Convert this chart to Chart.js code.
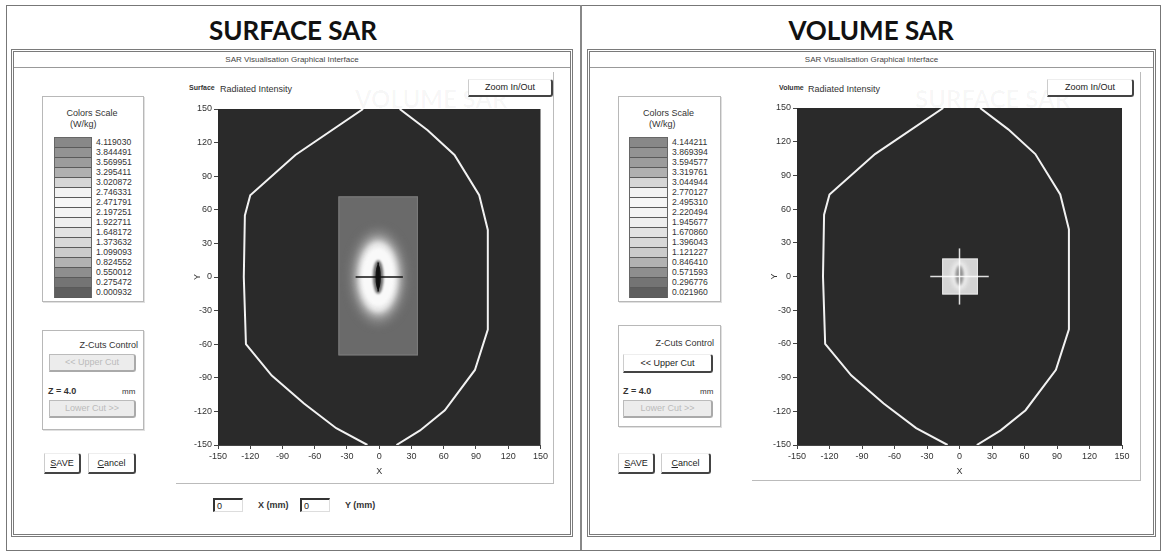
<!DOCTYPE html>
<html><head><meta charset="utf-8">
<script src="https://cdn.jsdelivr.net/npm/chart.js@4.4.0/dist/chart.umd.min.js"></script>
<style>
body{margin:0;width:1163px;height:557px;background:#fff;position:relative;overflow:hidden;font-family:"Liberation Sans",Arial,sans-serif;color:#222}
.a{position:absolute}
.title{position:absolute;font-family:Lato,"Open Sans",sans-serif;font-weight:700;font-size:26px;color:#111;text-align:center;top:14px}
.win{position:absolute;border:3px double #7a7a7a;background:#fff}
.wt{position:absolute;font-size:8px;color:#444;text-align:center}
.box{position:absolute;border:1px solid #b8b8b8;box-shadow:1px 1px 0 #e0e0e0}
.sm{position:absolute;font-size:9px;color:#333;white-space:nowrap}
.btn{position:absolute;background:#fff;border-top:1px solid #eee;border-left:1px solid #ccc;border-right:2px solid #444;border-bottom:2px solid #444;border-radius:0 3px 3px 0;font-size:9px;color:#222;text-align:center;box-sizing:border-box}
.dis{background:#ececec;color:#bbb;border:1px solid #bbb;border-right:2px solid #aaa;border-bottom:2px solid #aaa}
.bar div{height:9px;border-bottom:1px solid #5a5a5a}
.lab div{height:10px;line-height:10px;font-size:8.6px;color:#333}
.inp{position:absolute;border-top:2px solid #333;border-left:2px solid #333;border-right:1px solid #ddd;border-bottom:1px solid #ddd;font-size:9px;padding-left:2px;box-sizing:border-box}
.ghost{position:absolute;font-family:Lato,sans-serif;font-weight:700;font-size:24px;color:rgba(0,0,0,0.035)}
</style></head>
<body>
<div class="a" style="left:6px;top:5px;width:1153px;height:544px;border:1px solid #777"></div>
<div class="a" style="left:580px;top:5px;width:2px;height:545px;background:#888"></div>
<div class="title" style="left:6px;width:574px">SURFACE SAR</div>
<div class="title" style="left:582px;width:578px">VOLUME SAR</div>

<div class="win" style="left:11px;top:49px;width:556px;height:482px"></div>
<div class="win" style="left:587px;top:49px;width:563px;height:482px"></div>
<div class="wt" style="left:14px;top:55px;width:556px">SAR Visualisation Graphical Interface</div>
<div class="wt" style="left:590px;top:55px;width:563px">SAR Visualisation Graphical Interface</div>
<div class="a" style="left:14px;top:67px;width:556px;height:1px;background:#999"></div>
<div class="a" style="left:590px;top:67px;width:563px;height:1px;background:#999"></div>

<div class="ghost" style="left:355px;top:84px">VOLUME SAR</div>
<div class="ghost" style="left:915px;top:84px">SURFACE SAR</div>

<!-- plot frames -->
<div class="a" style="left:176px;top:72px;width:377px;height:411px;border-right:1px solid #bbb;border-bottom:1px solid #bbb"></div>
<div class="a" style="left:752px;top:72px;width:388px;height:408px;border-right:1px solid #bbb;border-bottom:1px solid #bbb"></div>

<!-- left controls -->
<div class="box" style="left:42px;top:96px;width:100px;height:204px"></div>
<div class="sm" style="left:42px;top:108px;width:100px;text-align:center">Colors Scale</div>
<div class="sm" style="left:70px;top:119px">(W/kg)</div>
<div class="a bar" id="barL" style="left:54px;top:137px;width:36px;border:1px solid #666;border-bottom:none"></div>
<div class="a lab" id="labL" style="left:96px;top:137px"></div>

<div class="box" style="left:42px;top:330px;width:100px;height:98px"></div>
<div class="sm" style="left:42px;top:340px;width:96px;text-align:right">Z-Cuts Control</div>
<div class="btn dis" style="left:49px;top:354px;width:87px;height:18px;line-height:15px">&lt;&lt; Upper Cut</div>
<div class="sm" style="left:48px;top:386px;font-weight:bold">Z = 4.0</div>
<div class="sm" style="left:122px;top:387px;font-size:8px">mm</div>
<div class="btn dis" style="left:49px;top:400px;width:87px;height:18px;line-height:15px">Lower Cut &gt;&gt;</div>
<div class="btn" style="left:44px;top:453px;width:37px;height:21px;line-height:18px"><u>S</u>AVE</div>
<div class="btn" style="left:88px;top:453px;width:48px;height:21px;line-height:18px"><u>C</u>ancel</div>

<div class="sm" style="left:189px;top:84px;font-size:7px;font-weight:bold">Surface</div>
<div class="sm" style="left:220px;top:84px">Radiated Intensity</div>
<div class="btn" style="left:468px;top:79px;width:85px;height:18px;line-height:15px">Zoom In/Out</div>

<div class="inp" style="left:213px;top:498px;width:30px;height:14px;line-height:12px">0</div>
<div class="sm" style="left:258px;top:500px;font-weight:bold">X (mm)</div>
<div class="inp" style="left:300px;top:498px;width:30px;height:14px;line-height:12px">0</div>
<div class="sm" style="left:345px;top:500px;font-weight:bold">Y (mm)</div>

<!-- right controls -->
<div class="box" style="left:618px;top:96px;width:101px;height:204px"></div>
<div class="sm" style="left:618px;top:108px;width:101px;text-align:center">Colors Scale</div>
<div class="sm" style="left:649px;top:119px">(W/kg)</div>
<div class="a bar" id="barR" style="left:629px;top:137px;width:37px;border:1px solid #666;border-bottom:none"></div>
<div class="a lab" id="labR" style="left:672px;top:137px"></div>

<div class="box" style="left:618px;top:325px;width:101px;height:100px"></div>
<div class="sm" style="left:618px;top:338px;width:96px;text-align:right">Z-Cuts Control</div>
<div class="btn" style="left:623px;top:354px;width:90px;height:19px;line-height:16px">&lt;&lt; Upper Cut</div>
<div class="sm" style="left:623px;top:386px;font-weight:bold">Z = 4.0</div>
<div class="sm" style="left:700px;top:387px;font-size:8px">mm</div>
<div class="btn dis" style="left:623px;top:400px;width:90px;height:18px;line-height:15px">Lower Cut &gt;&gt;</div>
<div class="btn" style="left:618px;top:453px;width:37px;height:21px;line-height:18px"><u>S</u>AVE</div>
<div class="btn" style="left:661px;top:453px;width:50px;height:21px;line-height:18px"><u>C</u>ancel</div>

<div class="sm" style="left:779px;top:84px;font-size:7px;font-weight:bold">Volume</div>
<div class="sm" style="left:808px;top:84px">Radiated Intensity</div>
<div class="btn" style="left:1047px;top:79px;width:87px;height:18px;line-height:15px">Zoom In/Out</div>

<canvas id="cL" class="a" style="left:180px;top:100px"></canvas>
<canvas id="cR" class="a" style="left:757px;top:99px"></canvas>

<script>
// ---------------- DATA ----------------
const axisTicks = [-150,-120,-90,-60,-30,0,30,60,90,120,150];
// phantom outline (mm), left and right halves
const phantomLeftX  = [-15,-78,-120,-125,-126,-124,-100,-70,-40,-11];
const phantomLeftY  = [150,109,73,55,0,-60,-88,-113,-135,-150];
const phantomRightX = [19,45,70,93,101,101,89,61,38,16];
const phantomRightY = [150,131,109,73,42,-47,-83,-119,-137,-150];
// color scale labels (W/kg)
const surfaceScale = ["4.119030","3.844491","3.569951","3.295411","3.020872","2.746331","2.471791","2.197251","1.922711","1.648172","1.373632","1.099093","0.824552","0.550012","0.275472","0.000932"];
const volumeScale  = ["4.144211","3.869394","3.594577","3.319761","3.044944","2.770127","2.495310","2.220494","1.945677","1.670860","1.396043","1.121227","0.846410","0.571593","0.296776","0.021960"];
// surface SAR field: measured area and iso-level ellipses
const surfaceAreaX = [-38, 36];
const surfaceAreaY = [-70, 72];
const surfaceAreaSAR = 0.28;
const surfaceSpotCenter = [-1, 0];
const surfaceSpotSAR = [0.82, 1.37, 1.92, 2.47, 3.30, 4.12];
const surfaceSpotRx  = [26, 21, 18, 15, 5, 2.5];
const surfaceSpotRy  = [42, 35, 31, 26, 15, 11];
const surfaceCrossX = [-22, 22];
const surfaceCrossY = [-13, 13];
// volume SAR field
const volumeAreaX = [-16, 17];
const volumeAreaY = [-16, 16];
const volumeAreaSAR = 1.40;
const volumeSpotCenter = [0, 1];
const volumeSpotSAR = [1.95, 0.85, 0.57];
const volumeSpotRx  = [8, 4, 2];
const volumeSpotRy  = [13, 9, 6];
const volumeCrossX = [-27, 27];
const volumeCrossY = [-25, 25];

// ---------------- STYLE ----------------
const bandGrays = ['#888','#939393','#9c9c9c','#b0b0b0','#d6d6d6','#f3f3f3','#f6f6f6','#f3f3f3','#eeeeee','#e2e2e2','#d8d8d8','#cbcbcb','#b2b2b2','#8e8e8e','#747474','#5e5e5e'];
const surfaceSpotColors = ['#8a8a8a','#c4c4c4','#ececec','#f9f9f9','#6e6e6e','#151515'];
const surfaceSpotBlur = [4,3,2,1.5,1,0.5];
const volumeSpotColors = ['#ececec','#a4a4a4','#8a8a8a'];
const volumeSpotBlur = [2,1,1];

function fillScale(barId, labId, labels){
  const bar=document.getElementById(barId), lab=document.getElementById(labId);
  labels.forEach((t,i)=>{
    const d=document.createElement('div'); d.style.background=bandGrays[i]; bar.appendChild(d);
    const l=document.createElement('div'); l.textContent=t; lab.appendChild(l);
  });
}
fillScale('barL','labL',surfaceScale);
fillScale('barR','labR',volumeScale);

function heatPlugin(h){
  return {id:'heat', beforeDatasetsDraw(chart){
    const {ctx, chartArea:a, scales:{x,y}} = chart;
    ctx.save();
    ctx.fillStyle='#2a2a2a'; ctx.fillRect(a.left,a.top,a.width,a.height);
    const x0=x.getPixelForValue(h.areaX[0]), x1=x.getPixelForValue(h.areaX[1]);
    const y0=y.getPixelForValue(h.areaY[1]), y1=y.getPixelForValue(h.areaY[0]);
    ctx.fillStyle=h.areaColor; ctx.fillRect(x0,y0,x1-x0,y1-y0);
    ctx.strokeStyle=h.edge; ctx.lineWidth=1; ctx.strokeRect(x0+0.5,y0+0.5,x1-x0-1,y1-y0-1);
    ctx.beginPath(); ctx.rect(x0,y0,x1-x0,y1-y0); ctx.clip();
    const cx=x.getPixelForValue(h.center[0]), cy=y.getPixelForValue(h.center[1]);
    h.sar.forEach((v,i)=>{
      const rx=Math.abs(x.getPixelForValue(h.center[0]+h.rx[i])-cx);
      const ry=Math.abs(y.getPixelForValue(h.center[1]+h.ry[i])-cy);
      ctx.filter='blur('+h.blur[i]+'px)';
      ctx.fillStyle=h.colors[i];
      ctx.beginPath(); ctx.ellipse(cx,cy,rx,ry,0,0,Math.PI*2); ctx.fill();
    });
    ctx.filter='none';
    ctx.restore();
  }};
}

function seg(xs, ys){ return xs.map((v,i)=>({x:v,y:ys[i]})); }

function makeChart(id, w, h, pad, yW, heat, crossColor, cross, center){
  const el=document.getElementById(id); el.width=w; el.height=h; el.style.width=w+'px'; el.style.height=h+'px';
  const lineDs=(data,color,width)=>({data, showLine:true, borderColor:color, borderWidth:width, pointRadius:0, tension:0, fill:false});
  return new Chart(el,{
    type:'scatter',
    data:{datasets:[
      lineDs(seg(phantomLeftX,phantomLeftY),'#f2f2f2',2),
      lineDs(seg(phantomRightX,phantomRightY),'#f2f2f2',2),
      lineDs([{x:cross.x[0],y:center[1]},{x:cross.x[1],y:center[1]}],crossColor,1.5),
      lineDs([{x:center[0],y:cross.y[0]},{x:center[0],y:cross.y[1]}],crossColor,1.5)
    ]},
    options:{
      responsive:false, animation:false, events:[],
      layout:{padding:pad},
      plugins:{legend:{display:false},tooltip:{enabled:false}},
      scales:{
        x:{type:'linear',min:-150,max:150,
          afterBuildTicks:s=>{s.ticks=axisTicks.map(v=>({value:v}));},
          afterFit:s=>{s.height=32;},
          ticks:{font:{family:'Liberation Sans',size:9},color:'#333',padding:2,maxRotation:0},
          grid:{drawOnChartArea:false,drawTicks:true,tickLength:4,color:'#444'},
          border:{display:true,color:'#444'},
          title:{display:true,text:'X',font:{family:'Liberation Sans',size:9},color:'#333',padding:{top:0,bottom:0}}},
        y:{type:'linear',min:-150,max:150,
          afterBuildTicks:s=>{s.ticks=axisTicks.map(v=>({value:v}));},
          afterFit:s=>{s.width=yW;},
          ticks:{font:{family:'Liberation Sans',size:9},color:'#333',padding:2},
          grid:{drawOnChartArea:false,drawTicks:true,tickLength:4,color:'#444'},
          border:{display:true,color:'#444'},
          title:{display:true,text:'Y',font:{family:'Liberation Sans',size:9},color:'#333',padding:{top:12,bottom:0}}}
      }
    },
    plugins:[heatPlugin(heat)]
  });
}

makeChart('cL',370,377,{top:9,right:9,left:0,bottom:0},38,
  {areaX:surfaceAreaX,areaY:surfaceAreaY,areaColor:'#6a6a6a',edge:'#7c7c7c',center:surfaceSpotCenter,
   sar:surfaceSpotSAR,rx:surfaceSpotRx,ry:surfaceSpotRy,colors:surfaceSpotColors,blur:surfaceSpotBlur},
  '#111',{x:surfaceCrossX,y:surfaceCrossY},surfaceSpotCenter);
makeChart('cR',375,378,{top:9,right:10,left:0,bottom:0},40,
  {areaX:volumeAreaX,areaY:volumeAreaY,areaColor:'#d4d4d4',edge:'#e6e6e6',center:volumeSpotCenter,
   sar:volumeSpotSAR,rx:volumeSpotRx,ry:volumeSpotRy,colors:volumeSpotColors,blur:volumeSpotBlur},
  'rgba(255,255,255,0.85)',{x:volumeCrossX,y:volumeCrossY},[0,0]);
</script>
</body></html>
